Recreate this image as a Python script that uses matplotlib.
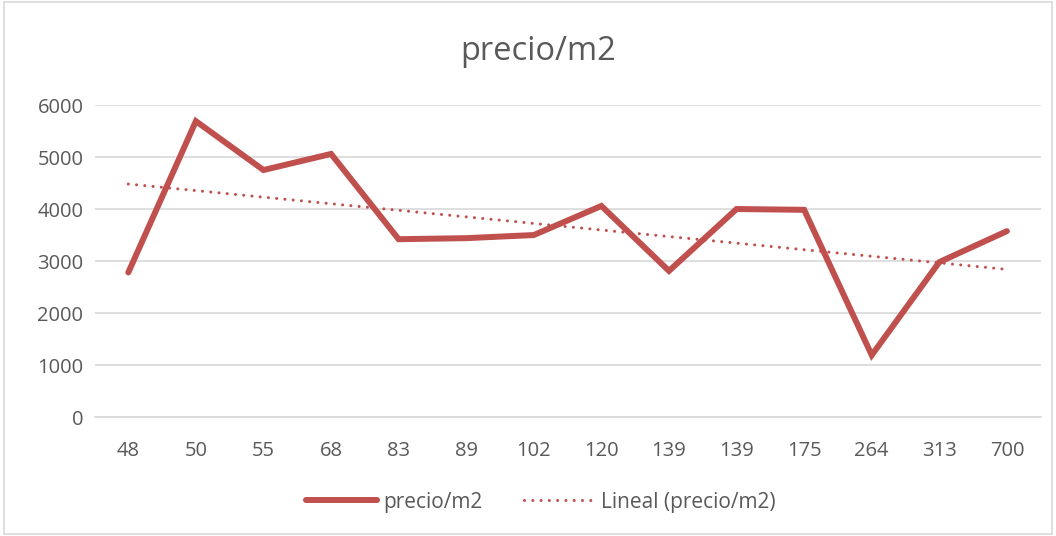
import numpy as np
import matplotlib
matplotlib.use("Agg")
import matplotlib.pyplot as plt
from matplotlib.patches import Rectangle

# data
area_labels = ["48", "50", "55", "68", "83", "89", "102", "120", "139", "139", "175", "264", "313", "700"]
precio_m2 = [2780, 5690, 4750, 5060, 3420, 3440, 3500, 4060, 2810, 4000, 3985, 1190, 2980, 3575]

red = "#C0504D"
grey_text = "#595959"

plt.rcParams["font.family"] = ["Open Sans", "DejaVu Sans"]

fig = plt.figure(figsize=(10.56, 5.36), dpi=100)
ax = fig.add_axes([0.0895, 0.222, 0.896, 0.582])

x = np.arange(1, len(precio_m2) + 1)
ax.plot(x, precio_m2, color=red, lw=4.3, solid_capstyle="round",
        solid_joinstyle="miter", label="precio/m2", zorder=3)

# linear trendline, like Excel's "Lineal"
slope, intercept = np.polyfit(x, precio_m2, 1)
ax.plot(x, slope * x + intercept, color=red, lw=2.2, linestyle=(0, (0.01, 2.7)),
        dash_capstyle="round", label="Lineal (precio/m2)", zorder=2)

ax.set_xlim(0.5, len(x) + 0.5)
ax.set_ylim(0, 6000)
ax.set_yticks(range(0, 6001, 1000))
ax.set_xticks(x)
ax.set_xticklabels(area_labels)
ax.yaxis.grid(True, color="#D9D9D9", lw=1.2)
ax.set_axisbelow(True)
for side in ["top", "right", "left"]:
    ax.spines[side].set_visible(False)
ax.spines["bottom"].set_color("#D9D9D9")
ax.spines["bottom"].set_linewidth(1.2)
ax.tick_params(length=0, labelsize=14.5, colors=grey_text, pad=17)
ax.tick_params(axis="y", pad=8)

fig.text(0.51, 0.903, "precio/m2", ha="center", va="center", fontsize=23.5, color=grey_text)

fig.legend(loc="center", bbox_to_anchor=(0.512, 0.063), ncol=2, frameon=False,
           fontsize=15, labelcolor=grey_text, handlelength=3.4, columnspacing=2.0,
           handletextpad=0.3)

# chart border
fig.patches.append(Rectangle((0.004, 0.004), 0.992, 0.992, transform=fig.transFigure,
                             fill=False, edgecolor="#D9D9D9", lw=1.2))

fig.savefig("out.png", dpi=100)
